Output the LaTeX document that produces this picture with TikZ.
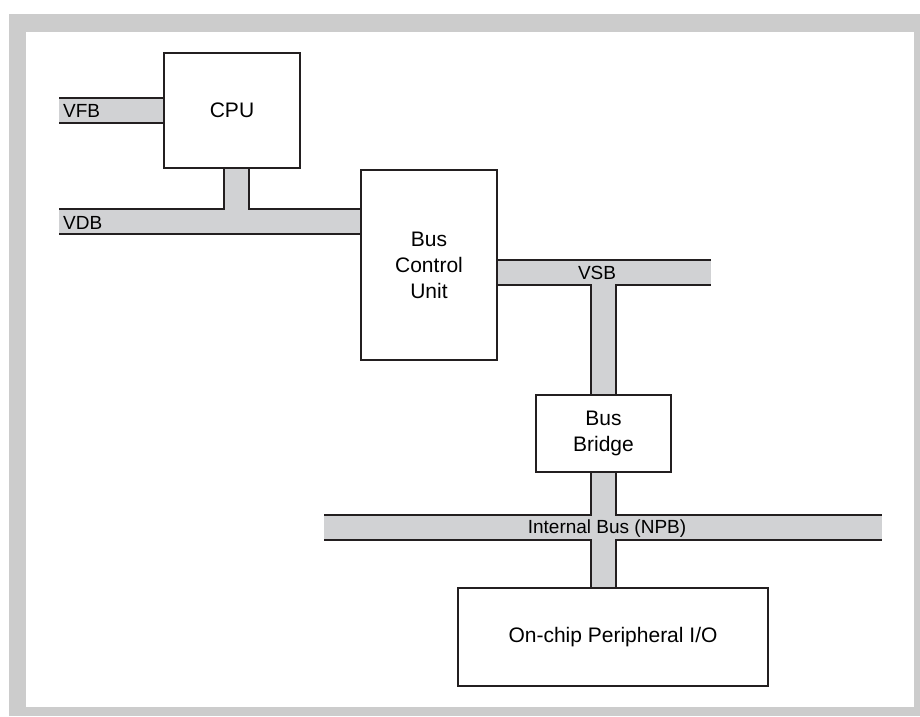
\documentclass[tikz,border=0pt]{standalone}
\usepackage{fontspec}
\setmainfont{Liberation Sans}
\usetikzlibrary{positioning,calc}
\definecolor{busgray}{HTML}{D1D2D4}
\definecolor{framegray}{HTML}{CCCCCC}
\definecolor{inkblack}{HTML}{231F20}
\pgfdeclarelayer{background}
\pgfsetlayers{background,main}

\begin{document}
\begin{tikzpicture}[x=1pt, y=-1pt,
    box/.style={draw=inkblack, line width=2pt, fill=white, align=center, inner sep=0pt,
        font=\fontsize{21}{26}\selectfont},
    busedge/.style={line width=27pt, inkblack},
    busbody/.style={line width=23pt, busgray},
    buslabel/.style={inner sep=0pt, text height=13.6pt, text depth=0pt,
        font=\fontsize{19}{22}\selectfont}]

    \useasboundingbox (0,0) rectangle (920,716);

    % Units
    \node[box, minimum width=136pt, minimum height=115pt] (cpu) at (232,110.5) {CPU};
    \node[box, minimum width=136pt, minimum height=190pt] (bcu) at (429,265) {Bus\\Control\\Unit};
    \node[box, minimum width=135pt, minimum height=77pt] (bridge) at (603.5,433.5) {Bus\\Bridge};
    \node[box, minimum width=310pt, minimum height=98pt] (periph) at (613,637) {On-chip Peripheral I/O};

    % Free bus ends
    \coordinate (vfb) at (59,110.5);
    \coordinate (vdb) at (59,221.5);
    \coordinate (vsb) at (711,272.5);
    \coordinate (npbL) at (324,527);
    \coordinate (npbR) at (882,527);
    \coordinate (cpustem) at ([xshift=4pt]cpu.south);

    % Bus labels
    \node[buslabel, anchor=west] (vfblbl) at ([xshift=4pt]vfb) {VFB};
    \node[buslabel, anchor=west] (vdblbl) at ([xshift=4pt,yshift=-1pt]vdb) {VDB};
    \node[buslabel] (vsblbl) at (597,272.5) {VSB};
    \node[buslabel] (npblbl) at (607,527) {Internal Bus (NPB)};

    \begin{pgfonlayer}{background}
        % Frame
        \fill[framegray] (9,14) rectangle (920,716);
        \fill[white] (26,32) rectangle (914,707);

        % Buses: outline first, then fill
        \foreach \s in {busedge, busbody} {
            \draw[\s] (vfb) -- (vfb -| cpu.west);
            \draw[\s] (vdb) -- (vdb -| bcu.west);
            \draw[\s] (cpustem) -- (cpustem |- vdb);
            \draw[\s] (bcu.east |- vsb) -- (vsb);
            \draw[\s] (bridge.north) -- (bridge.north |- vsb);
            \draw[\s] (npbL) -- (npbR);
            \draw[\s] (bridge.south) -- (bridge.south |- periph.north);
        }
    \end{pgfonlayer}
\end{tikzpicture}
\end{document}
